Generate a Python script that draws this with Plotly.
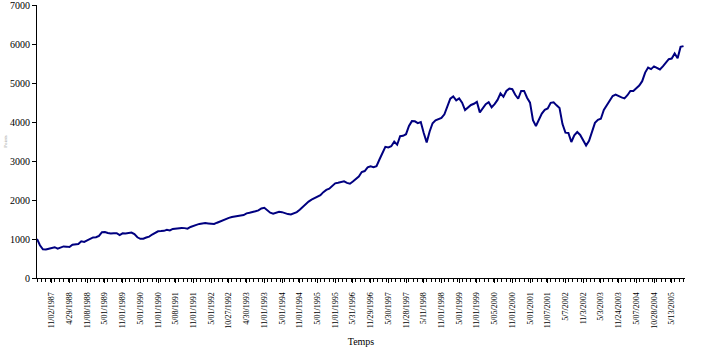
import plotly.graph_objects as go

# Monthly series (index 0 .. 219)
values = [
    1000, 840, 735, 730, 752, 765, 790, 755, 790, 810,
    805, 795, 855, 860, 870, 940, 925, 965, 1010, 1040,
    1045, 1080, 1175, 1180, 1155, 1140, 1150, 1150, 1100, 1145,
    1140, 1150, 1165, 1125, 1045, 1005, 1010, 1040, 1062, 1115,
    1165, 1198, 1203, 1210, 1237, 1222, 1260, 1274, 1280, 1285,
    1280, 1266, 1310, 1345, 1362, 1388, 1405, 1408, 1400, 1390,
    1385, 1419, 1450, 1500, 1527, 1543, 1566, 1584, 1592, 1606,
    1614, 1658, 1673, 1702, 1713, 1735, 1785, 1800, 1733, 1675,
    1650, 1680, 1698, 1690, 1660, 1640, 1628, 1655, 1690, 1750,
    1825, 1899, 1960, 2010, 2043, 2083, 2125, 2203, 2260, 2290,
    2350, 2429, 2443, 2460, 2480, 2440, 2420, 2475, 2545, 2605,
    2720, 2745, 2840, 2866, 2845, 2870, 3040, 3210, 3365, 3350,
    3380, 3500, 3420, 3640, 3648, 3690, 3900, 4025, 4020, 3975,
    4000, 3720, 3480, 3760, 3970, 4045, 4080, 4110, 4200, 4430,
    4600, 4660, 4560, 4610, 4500, 4310, 4380, 4440, 4470, 4520,
    4250, 4350, 4460, 4510, 4380, 4460, 4570, 4740, 4650, 4800,
    4860, 4844, 4700, 4600, 4800, 4800, 4625, 4500, 4050, 3900,
    4050, 4220, 4315, 4350, 4495, 4510, 4430, 4360, 3950, 3730,
    3720, 3490, 3660, 3745, 3670, 3525, 3400, 3520, 3760, 3980,
    4060, 4085, 4310, 4420, 4530, 4670, 4705, 4680, 4635, 4610,
    4690, 4800, 4800, 4870, 4940, 5050, 5270, 5400, 5360, 5430,
    5390, 5350, 5430, 5520, 5615, 5630, 5760, 5640, 5930, 5950,
]
months = list(range(len(values)))

tick_positions = list(range(5, 220, 6))
tick_labels = [
    "11/02/1987", "4/29/1988", "11/08/1988", "5/01/1989", "11/01/1989",
    "5/01/1990", "11/01/1990", "5/08/1991", "11/01/1991", "5/01/1992",
    "10/27/1992", "4/30/1993", "11/01/1993", "5/01/1994", "11/01/1994",
    "5/01/1995", "11/01/1995", "5/31/1996", "11/29/1996", "5/30/1997",
    "11/28/1997", "5/11/1998", "11/01/1998", "5/01/1999", "11/01/1999",
    "5/05/2000", "11/01/2000", "5/01/2001", "11/07/2001", "5/7/2002",
    "11/3/2002", "5/3/2003", "11/24/2003", "5/07/2004", "10/28/2004",
    "5/13/2005",
]

y_ticks = [0, 1000, 2000, 3000, 4000, 5000, 6000, 7000]

FONT = "Liberation Serif"

fig = go.Figure()
fig.add_trace(go.Scatter(
    x=months, y=values, mode="lines",
    line=dict(color="#000080", width=2),
    showlegend=False,
))

fig.update_layout(
    width=702, height=351,
    margin=dict(l=37, r=17, t=5, b=73, autoexpand=False),
    paper_bgcolor="white", plot_bgcolor="white",
    font=dict(family=FONT, color="black"),
    xaxis=dict(
        range=[0, len(values) - 0.5], automargin=False,
        tickmode="array", tickvals=tick_positions, ticktext=tick_labels,
        tickangle=-90, tickfont=dict(size=8, family=FONT),
        ticklabelstandoff=6,
        showline=True, linecolor="black", linewidth=1,
        ticks="outside", ticklen=4, tickcolor="black",
        minor=dict(tick0=0, dtick=1.5, ticks="outside", ticklen=3, tickcolor="black"),
        showgrid=False, zeroline=False,
        title=dict(text="Temps", font=dict(size=10, family=FONT), standoff=10),
    ),
    yaxis=dict(
        range=[0, 7005], automargin=False, tickmode="array", tickvals=y_ticks,
        ticktext=[str(v) for v in y_ticks],
        tickfont=dict(size=10, family=FONT),
        ticklabeloverflow="allow",
        showline=True, linecolor="black", linewidth=1,
        ticks="outside", ticklen=4, tickcolor="black",
        showgrid=False, zeroline=False,
        title=dict(text="Points", font=dict(size=5, family=FONT, color="#999999"), standoff=2),
    ),
)

fig.write_html("out.html")
